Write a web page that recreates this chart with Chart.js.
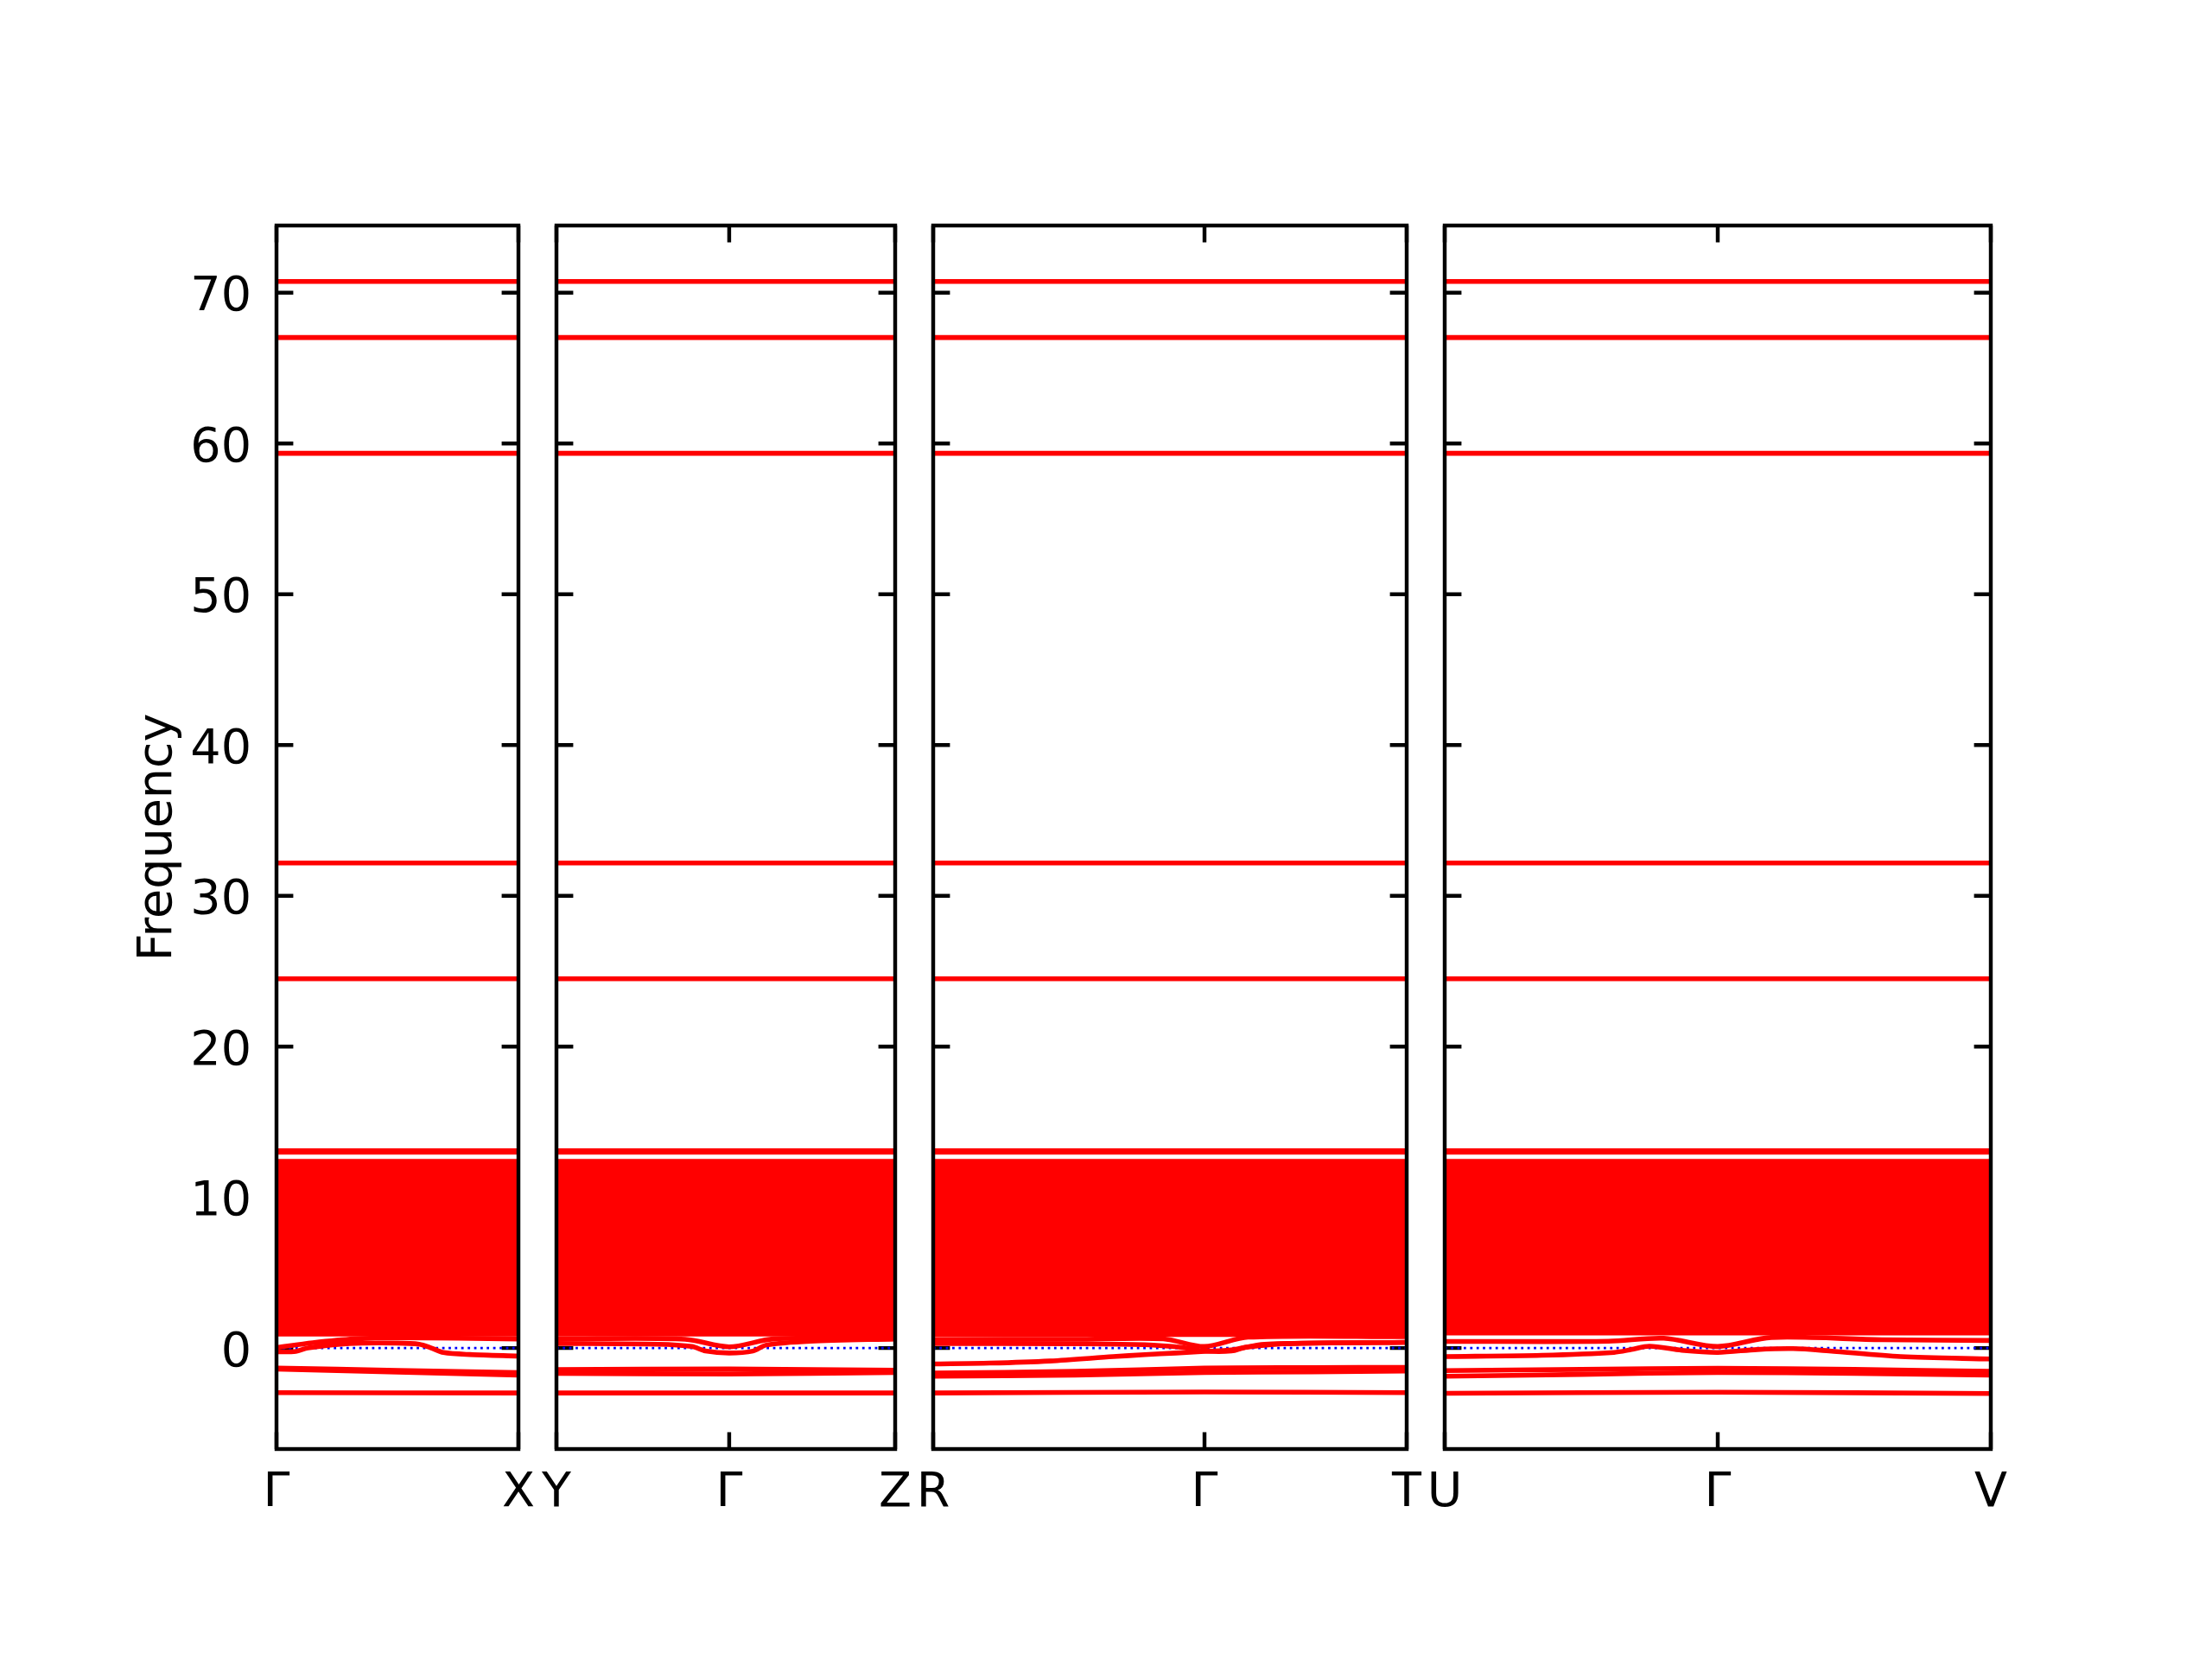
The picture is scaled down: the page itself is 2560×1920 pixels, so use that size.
<!DOCTYPE html>
<html>
<head>
<meta charset="utf-8">
<script src="https://cdn.jsdelivr.net/npm/chart.js@4.4.1/dist/chart.umd.min.js"></script>
<style>
  html, body { margin: 0; padding: 0; background: #fff; }
  #fig { position: relative; width: 2560px; height: 1920px; background: #fff; overflow: hidden; }
  #fig canvas { position: absolute; top: 0; }
</style>
</head>
<body>
<div id="fig"></div>
<script>
// k-path labels and positions of the high-symmetry points inside each panel
const kLabels = [['Γ', 'X'], ['Y', 'Γ', 'Z'], ['R', 'Γ', 'T'], ['U', 'Γ', 'V']];
const kTicks = [[0, 1], [0, 0.51, 1], [0, 0.573, 1], [0, 0.5, 1]];

const freqTicks = [0, 10, 20, 30, 40, 50, 60, 70];
const freqMin = -6.7;
const freqMax = 74.46;

// bands that are flat along the whole path
const flatBands = [70.75, 67.03, 59.35, 32.17, 24.49, 13.08, 12.99];

// edges of the dense block of bands, one value per panel
const denseTop = [12.38, 12.38, 12.38, 12.38];
const denseBottom = [0.92, 0.92, 0.9, 1.0];

// low branches per panel as [k, frequency]
const lowGX = [
  [[0, -0.25], [0.08, -0.22], [0.13, 0.0], [0.3, 0.3], [0.5, 0.33], [0.59, 0.25], [0.64, 0.0], [0.69, -0.3], [0.8, -0.43], [1, -0.53]],
  [[0, 0.04], [0.15, 0.35], [0.32, 0.6], [0.5, 0.68], [1, 0.6]],
  [[0, -1.33], [0.5, -1.48], [1, -1.63]],
  [[0, -1.4], [0.5, -1.6], [1, -1.8]],
  [[0, -2.96], [1, -2.98]]
];
const lowYGZ = [
  [[0, 0.6], [0.38, 0.58], [0.51, 0.08], [0.64, 0.6], [1, 0.7]],
  [[0, 0.3], [0.3, 0.25], [0.4, 0.1], [0.44, -0.2], [0.51, -0.33], [0.58, -0.2], [0.62, 0.2], [0.75, 0.45], [1, 0.6]],
  [[0, -1.43], [0.51, -1.39], [1, -1.47]],
  [[0, -1.68], [0.51, -1.72], [1, -1.62]],
  [[0, -2.98], [1, -2.98]]
];
const lowRGT = [
  [[0, 0.57], [0.3, 0.58], [0.486, 0.61], [0.573, 0.1], [0.665, 0.72], [1, 0.75]],
  [[0, 0.3], [0.3, 0.28], [0.447, 0.22], [0.527, 0.03], [0.573, -0.2], [0.63, -0.2], [0.66, 0.05], [0.75, 0.3], [1, 0.38]],
  [[0, -1.05], [0.12, -1.0], [0.247, -0.86], [0.38, -0.57], [0.447, -0.44], [0.513, -0.33], [0.573, -0.22], [0.63, -0.12], [0.7, 0.25], [1, 0.38]],
  [[0, -1.66], [0.3, -1.55], [0.573, -1.33], [0.8, -1.3], [1, -1.28]],
  [[0, -1.87], [0.3, -1.8], [0.573, -1.62], [0.8, -1.58], [1, -1.53]],
  [[0, -2.98], [0.573, -2.92], [1, -2.96]]
];
const lowUGV = [
  [[0, 0.44], [0.3, 0.45], [0.401, 0.65], [0.5, 0.1], [0.598, 0.7], [0.8, 0.55], [1, 0.5]],
  [[0, -0.57], [0.178, -0.48], [0.31, -0.29], [0.342, -0.1], [0.375, 0.12], [0.434, -0.15], [0.5, -0.29], [0.572, -0.1], [0.638, -0.04], [0.704, -0.19], [0.835, -0.57], [1, -0.73]],
  [[0, -1.5], [0.25, -1.42], [0.5, -1.34], [0.75, -1.42], [1, -1.55]],
  [[0, -1.87], [0.25, -1.75], [0.5, -1.62], [0.75, -1.68], [1, -1.8]],
  [[0, -3.0], [0.5, -2.93], [1, -3.02]]
];
const lowSets = [lowGX, lowYGZ, lowRGT, lowUGV];

// figure layout (pixels)
const panelBox = [[320, 600], [644, 1036], [1080, 1628], [1672, 2304]];
const plotTop = 261;
const plotBottom = 1677;
const margin = 60;
const xAxisH = 100;

const red = '#ff0000';
const lw = 5.56;      // 1pt at 400 dpi
const axisLw = 4.44;  // 0.8pt
const tickLen = 19.4; // 3.5pt
const font = { family: "'DejaVu Sans'", size: 55.56 };

// inward ticks go under the curves, the frame goes over them
const framePlugin = {
  id: 'frame',
  beforeDatasetsDraw(chart) {
    const { ctx, chartArea: a, scales: { x, y } } = chart;
    ctx.save();
    ctx.strokeStyle = '#000';
    ctx.lineWidth = axisLw;
    ctx.lineCap = 'butt';
    ctx.beginPath();
    y.ticks.forEach(t => {
      const py = y.getPixelForValue(t.value);
      ctx.moveTo(a.left, py); ctx.lineTo(a.left + tickLen, py);
      ctx.moveTo(a.right, py); ctx.lineTo(a.right - tickLen, py);
    });
    x.ticks.forEach(t => {
      const px = x.getPixelForValue(t.value);
      ctx.moveTo(px, a.bottom); ctx.lineTo(px, a.bottom - tickLen);
      ctx.moveTo(px, a.top); ctx.lineTo(px, a.top + tickLen);
    });
    ctx.stroke();
    ctx.restore();
  },
  afterDatasetsDraw(chart) {
    const { ctx, chartArea: a } = chart;
    ctx.save();
    ctx.strokeStyle = '#000';
    ctx.lineWidth = axisLw;
    ctx.lineJoin = 'miter';
    ctx.strokeRect(a.left, a.top, a.right - a.left, a.bottom - a.top);
    ctx.restore();
  }
};

function line(pts, extra) {
  return Object.assign({
    data: pts.map(([x, y]) => ({ x, y })),
    borderColor: red,
    borderWidth: lw,
    fill: false,
    order: 0
  }, extra || {});
}

const fig = document.getElementById('fig');

panelBox.forEach(([left, right], i) => {
  const first = i === 0;
  const cLeft = first ? 0 : left - margin;
  const cWidth = right + margin - cLeft;
  const canvas = document.createElement('canvas');
  canvas.width = cWidth;
  canvas.height = 1920;
  canvas.style.left = cLeft + 'px';
  canvas.style.width = cWidth + 'px';
  canvas.style.height = '1920px';
  fig.appendChild(canvas);

  const datasets = [];
  datasets.push(line([[0, 0], [1, 0]], { borderColor: '#0000ff', borderWidth: 2.78, borderDash: [2.78, 4.59], order: 1 }));
  datasets.push(line([[0, denseBottom[i]], [1, denseBottom[i]]]));
  datasets.push(line([[0, denseTop[i]], [1, denseTop[i]]], { fill: '-1', backgroundColor: red }));
  flatBands.forEach(f => datasets.push(line([[0, f], [1, f]])));
  lowSets[i].forEach(b => datasets.push(line(b)));

  new Chart(canvas, {
    type: 'line',
    data: { datasets },
    plugins: [framePlugin],
    options: {
      responsive: false,
      devicePixelRatio: 1,
      animation: false,
      events: [],
      layout: {
        padding: { left: first ? 0 : margin, right: margin, top: plotTop, bottom: 1920 - plotBottom - xAxisH }
      },
      elements: {
        point: { radius: 0 },
        line: { tension: 0.3, borderCapStyle: 'butt' }
      },
      plugins: { legend: { display: false }, tooltip: { enabled: false } },
      scales: {
        x: {
          type: 'linear', min: 0, max: 1, bounds: 'data',
          grid: { display: false }, border: { display: false },
          afterBuildTicks: s => { s.ticks = kTicks[i].map(v => ({ value: v })); },
          afterFit: s => { s.height = xAxisH; },
          ticks: {
            autoSkip: false, maxRotation: 0, minRotation: 0, padding: 10, color: '#000', font,
            callback: (v, idx) => kLabels[i][idx]
          }
        },
        y: {
          type: 'linear', min: freqMin, max: freqMax, bounds: 'data', display: first,
          grid: { display: false }, border: { display: false },
          afterBuildTicks: s => { s.ticks = freqTicks.map(v => ({ value: v })); },
          afterFit: s => { s.width = first ? panelBox[0][0] : 0; },
          ticks: { padding: 21, labelOffset: 6, color: '#000', font, callback: v => String(v) },
          title: { display: true, text: 'Frequency', color: '#000', font, padding: { top: 150, bottom: 0 } }
        }
      }
    }
  });
});
</script>
</body>
</html>
